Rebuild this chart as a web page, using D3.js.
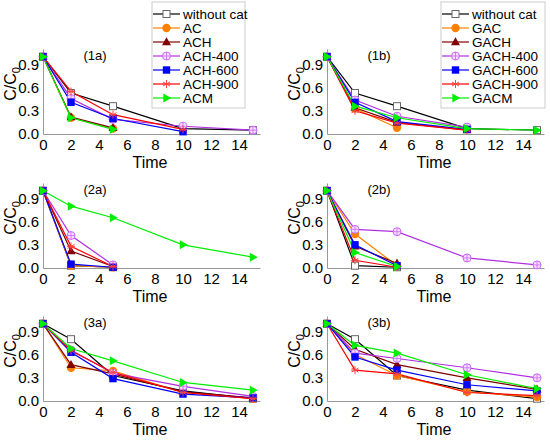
<!DOCTYPE html>
<html>
<head>
<meta charset="utf-8">
<script src="https://cdn.jsdelivr.net/npm/d3@7"></script>
<style>
  body { margin: 0; background: #fff; }
  text { font-family: Arial, "Liberation Sans", sans-serif; }
</style>
</head>
<body>
<svg id="chart" width="550" height="440"></svg>
<script>
// 시간 축
const times = [0, 2, 5, 10, 15];
const xTicks = [0, 2, 4, 6, 8, 10, 12, 14];
const yTicks = [0.0, 0.3, 0.6, 0.9];

// 시리즈 이름
const namesA = ["without cat", "AC", "ACH", "ACH-400", "ACH-600", "ACH-900", "ACM"];
const namesB = ["without cat", "GAC", "GACH", "GACH-400", "GACH-600", "GACH-900", "GACM"];

// 패널별 값 (times 순서, 짧으면 중간에 끝남)
const data1a = [
  [1.0, 0.53, 0.36, 0.07, 0.05],
  [1.0, 0.21, 0.07],
  [1.0, 0.22, 0.08],
  [1.0, 0.46, 0.19, 0.10, 0.05],
  [1.0, 0.41, 0.20, 0.03],
  [1.0, 0.55, 0.25, 0.06],
  [1.0, 0.21, 0.06]
];
const data1b = [
  [1.0, 0.53, 0.36, 0.07, 0.05],
  [1.0, 0.33, 0.08],
  [1.0, 0.34, 0.15, 0.05],
  [1.0, 0.44, 0.23, 0.09],
  [1.0, 0.41, 0.16, 0.06],
  [1.0, 0.30, 0.14, 0.05],
  [1.0, 0.36, 0.21, 0.07, 0.05]
];
const data2a = [
  [1.0, 0.03, 0.01],
  [1.0, 0.03, 0.01],
  [1.0, 0.22, 0.02],
  [1.0, 0.42, 0.04],
  [1.0, 0.05, 0.01],
  [1.0, 0.28, 0.02],
  [1.0, 0.80, 0.65, 0.30, 0.14]
];
const data2b = [
  [1.0, 0.03, 0.01],
  [1.0, 0.44, 0.03],
  [1.0, 0.28, 0.06],
  [1.0, 0.50, 0.47, 0.13, 0.04],
  [1.0, 0.30, 0.03],
  [1.0, 0.10, 0.01],
  [1.0, 0.20, 0.02]
];
const data3a = [
  [1.0, 0.80, 0.33, 0.13, 0.03],
  [1.0, 0.43, 0.39, 0.11, 0.03],
  [1.0, 0.47, 0.35, 0.12, 0.04],
  [1.0, 0.66, 0.36, 0.19, 0.06],
  [1.0, 0.63, 0.29, 0.09, 0.04],
  [1.0, 0.65, 0.37, 0.11, 0.03],
  [1.0, 0.68, 0.52, 0.24, 0.14]
];
const data3b = [
  [1.0, 0.80, 0.33, 0.14, 0.03],
  [1.0, 0.60, 0.33, 0.12, 0.05],
  [1.0, 0.67, 0.47, 0.30, 0.15],
  [1.0, 0.62, 0.55, 0.43, 0.30],
  [1.0, 0.57, 0.40, 0.21, 0.13],
  [1.0, 0.40, 0.35, 0.11, 0.07],
  [1.0, 0.72, 0.62, 0.34, 0.16]
];

// 스타일
const lineColors = ["#000000", "#ff8000", "#800000", "#b030e0", "#0000ff", "#ff0000", "#00ee00"];
const markColors = ["#666666", "#ff8000", "#800000", "#cc66ff", "#0000ff", "#ff4040", "#00ee00"];
const markTypes = ["openSquare", "circle", "triangle", "crossCircle", "square", "asterisk", "rightTri"];

const svg = d3.select("#chart");

function drawMarker(g, type, color, x, y) {
  if (type === "openSquare") {
    g.append("rect").attr("x", x - 3.5).attr("y", y - 3.5).attr("width", 7).attr("height", 7)
      .attr("fill", "#fff").attr("stroke", color).attr("stroke-width", 1);
  } else if (type === "circle") {
    g.append("circle").attr("cx", x).attr("cy", y).attr("r", 4.2).attr("fill", color);
  } else if (type === "square") {
    g.append("rect").attr("x", x - 3.7).attr("y", y - 3.7).attr("width", 7.4).attr("height", 7.4).attr("fill", color);
  } else if (type === "triangle") {
    g.append("path").attr("d", `M${x},${y - 4.8}L${x + 4.5},${y + 3.2}L${x - 4.5},${y + 3.2}Z`).attr("fill", color);
  } else if (type === "rightTri") {
    g.append("path").attr("d", `M${x + 4.8},${y}L${x - 3.2},${y - 4.5}L${x - 3.2},${y + 4.5}Z`).attr("fill", color);
  } else if (type === "crossCircle") {
    g.append("circle").attr("cx", x).attr("cy", y).attr("r", 4).attr("fill", "#f3e0ff")
      .attr("stroke", color).attr("stroke-width", 1);
    g.append("path").attr("d", `M${x - 4},${y}H${x + 4}M${x},${y - 4}V${y + 4}`)
      .attr("stroke", color).attr("stroke-width", 0.8);
  } else if (type === "asterisk") {
    const r = 4;
    const d = [0, 60, 120].map(a => {
      const t = a * Math.PI / 180;
      return `M${x - r * Math.sin(t)},${y - r * Math.cos(t)}L${x + r * Math.sin(t)},${y + r * Math.cos(t)}`;
    }).join("");
    g.append("path").attr("d", d + `M${x - r},${y}H${x + r}`).attr("stroke", color).attr("stroke-width", 1);
  }
}

function drawPanel(left, bottom, label, values) {
  const x = d3.scaleLinear().domain([0, 15.5]).range([left, left + 217]);
  const y = d3.scaleLinear().domain([0, 1.1]).range([bottom, bottom - 85]);
  const g = svg.append("g");

  const xAxis = g.append("g").attr("transform", `translate(0,${bottom})`)
    .call(d3.axisBottom(x).tickValues(xTicks).tickSize(0).tickPadding(5).tickFormat(d3.format("d")));
  const yAxis = g.append("g").attr("transform", `translate(${left},0)`)
    .call(d3.axisLeft(y).tickValues(yTicks).tickSize(0).tickPadding(4).tickFormat(d3.format(".1f")));
  [xAxis, yAxis].forEach(a => {
    a.select(".domain").attr("stroke", "#999").attr("stroke-width", 1);
    a.selectAll("text").attr("font-size", 15).attr("fill", "#000");
  });

  g.append("text").attr("x", left + 107).attr("y", bottom + 34)
    .attr("text-anchor", "middle").attr("font-size", 16).text("Time");

  const yl = g.append("text").attr("transform", `translate(${left - 27},${bottom - 50}) rotate(-90)`)
    .attr("text-anchor", "middle").attr("font-size", 16);
  yl.append("tspan").text("C/C");
  yl.append("tspan").attr("font-size", 11).attr("dy", 4).text("0");

  g.append("text").attr("x", left + 52).attr("y", bottom - 74)
    .attr("text-anchor", "middle").attr("font-size", 13).text(label);

  const line = d3.line().x((d, i) => x(times[i])).y(d => y(d));
  values.forEach((vals, s) => {
    g.append("path").attr("d", line(vals)).attr("fill", "none")
      .attr("stroke", lineColors[s]).attr("stroke-width", 1.2);
  });
  values.forEach((vals, s) => {
    vals.forEach((v, i) => drawMarker(g, markTypes[s], markColors[s], x(times[i]), y(v)));
  });
}

function drawLegend(bx, bw, names) {
  const g = svg.append("g");
  g.append("rect").attr("x", bx).attr("y", 2).attr("width", bw).attr("height", 106)
    .attr("fill", "#fff").attr("stroke", "#ccc").attr("stroke-width", 1);
  names.forEach((n, i) => {
    const cy = 14 + i * 14;
    g.append("line").attr("x1", bx + 1).attr("x2", bx + 28).attr("y1", cy).attr("y2", cy)
      .attr("stroke", lineColors[i]).attr("stroke-width", 1.2);
    drawMarker(g, markTypes[i], markColors[i], bx + 14.5, cy);
    g.append("text").attr("x", bx + 31).attr("y", cy + 5).attr("font-size", 13.5).text(n);
  });
}

drawPanel(43, 134, "(1a)", data1a);
drawPanel(327, 134, "(1b)", data1b);
drawPanel(43, 268, "(2a)", data2a);
drawPanel(327, 268, "(2b)", data2b);
drawPanel(43, 401, "(3a)", data3a);
drawPanel(327, 401, "(3b)", data3b);

drawLegend(152, 93, namesA);
drawLegend(441, 104, namesB);
</script>
</body>
</html>
